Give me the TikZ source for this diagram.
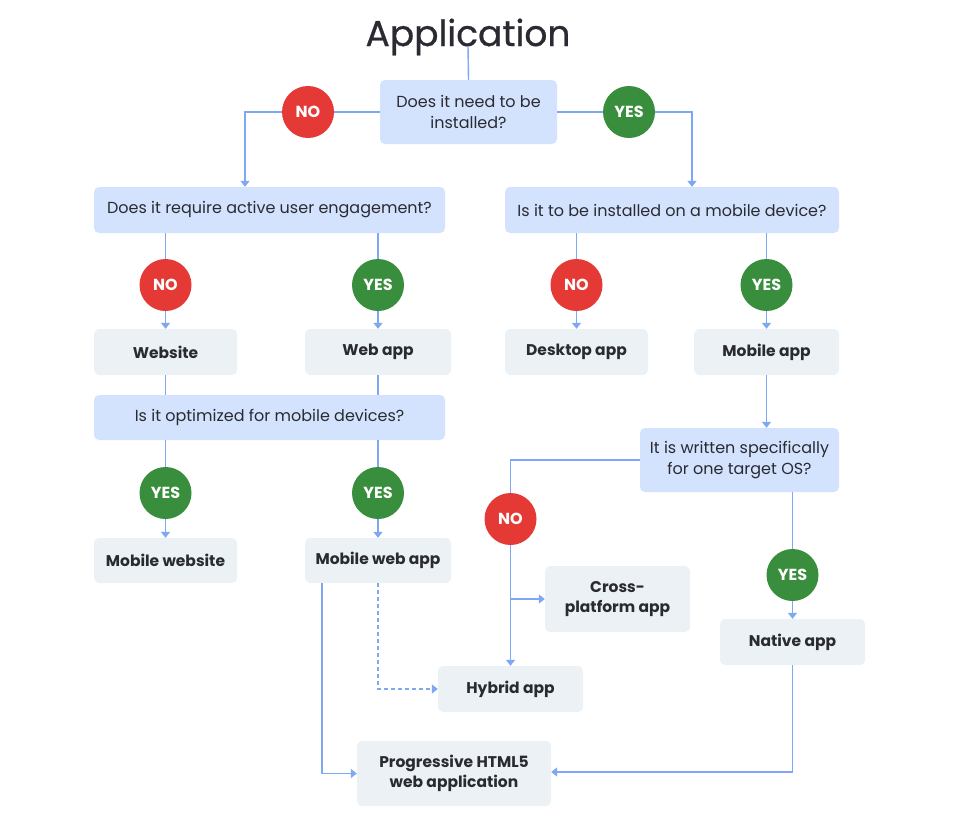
\documentclass[tikz,border=0pt]{standalone}
\usepackage{fontspec}
\setmainfont{Poppins}
\newfontfamily\titlefont[FakeBold=0.7]{Poppins}
\usetikzlibrary{arrows.meta,calc}
\definecolor{qfill}{HTML}{D3E3FD}
\definecolor{afill}{HTML}{EBF1F5}
\definecolor{lnc}{HTML}{7EA8F3}
\definecolor{txt}{HTML}{2A2A33}
\definecolor{nored}{HTML}{E53935}
\definecolor{yesgreen}{HTML}{388E3C}
\begin{document}
\begin{tikzpicture}[x=1pt,y=-1pt,
  every node/.style={text=txt},
  qbox/.style={fill=qfill,rounded corners=5pt,align=center,font=\fontsize{16}{20.5}\selectfont,inner sep=0pt},
  abox/.style={fill=afill,rounded corners=5pt,align=center,font=\fontsize{15.5}{20}\selectfont\bfseries,inner sep=0pt},
  nocirc/.style={circle,fill=nored,minimum size=52pt,inner sep=0pt,text=white,font=\fontsize{16}{18}\selectfont\bfseries},
  yescirc/.style={circle,fill=yesgreen,minimum size=52pt,inner sep=0pt,text=white,font=\fontsize{16}{18}\selectfont\bfseries},
  conn/.style={draw=lnc,line width=1.4pt},
  arr/.style={conn,-{Triangle[width=9pt,length=6pt]}},
  darr/.style={arr,dash pattern=on 4pt off 3pt}]
\useasboundingbox (0,0) rectangle (960,819);
\fill[white] (0,0) rectangle (960,819);
% title
\node[anchor=base,font=\titlefont\fontsize{36}{40}\selectfont] (title) at (468,46) {Application};
% boxes
\node[qbox,minimum width=177pt,minimum height=64pt] (q1) at (468.5,112) {Does it need to be\\installed?};
\node[qbox,minimum width=351pt,minimum height=46pt] (q2) at (269.5,210) {Does it require active user engagement?};
\node[qbox,minimum width=334pt,minimum height=46pt] (q3) at (672,210) {Is it to be installed on a mobile device?};
\node[abox,minimum width=143pt,minimum height=46pt] (website) at (165.5,352) {Website};
\node[abox,minimum width=146pt,minimum height=46pt] (webapp) at (378,352) {Web app};
\node[abox,minimum width=143pt,minimum height=46pt] (desktop) at (576.5,352) {Desktop app};
\node[abox,minimum width=145pt,minimum height=46pt] (mobileapp) at (766.5,352) {Mobile app};
\node[qbox,minimum width=351pt,minimum height=45pt] (q4) at (269.5,417.5) {Is it optimized for mobile devices?};
\node[qbox,minimum width=199pt,minimum height=64pt] (q5) at (739.5,460) {It is written specifically\\for one target OS?};
\node[abox,minimum width=143pt,minimum height=45pt] (mobwebsite) at (165.5,560.5) {Mobile website};
\node[abox,minimum width=146pt,minimum height=45pt] (mobwebapp) at (378,560.5) {Mobile web app};
\node[abox,minimum width=145pt,minimum height=66pt] (cross) at (617.5,599) {Cross-\\platform app};
\node[abox,minimum width=145pt,minimum height=46pt] (hybrid) at (510.5,689) {Hybrid app};
\node[abox,minimum width=145pt,minimum height=46pt] (native) at (792.5,642) {Native app};
\node[abox,minimum width=194pt,minimum height=65pt] (pwa) at (454,773.5) {Progressive HTML5\\web application};
% connectors
\draw[conn] (title.base) -- (q1.north);
\draw[arr] (q1.west) -| ([xshift=-24.5pt]q2.north);
\draw[arr] (q1.east) -| ([xshift=20pt]q3.north);
\draw[arr] (q2.south -| website) -- (website.north);
\draw[arr] (q2.south -| webapp) -- (webapp.north);
\draw[arr] (q3.south -| desktop) -- (desktop.north);
\draw[arr] (q3.south -| mobileapp) -- (mobileapp.north);
\draw[conn] (website.south) -- (website.south |- q4.north);
\draw[conn] (webapp.south) -- (webapp.south |- q4.north);
\draw[arr] (q4.south -| mobwebsite) -- (mobwebsite.north);
\draw[arr] (q4.south -| mobwebapp) -- (mobwebapp.north);
\draw[arr] (mobileapp.south) -- (mobileapp.south |- q5.north);
\draw[arr] (q5.west) -| (hybrid.north);
\draw[arr] (hybrid.north |- cross.west) -- (cross.west);
\draw[arr] (q5.south -| native) -- (native.north);
\draw[arr] (native.south) |- ([yshift=1.5pt]pwa.east);
\draw[arr] ([xshift=-56pt]mobwebapp.south) |- (pwa.west);
\draw[darr] (mobwebapp.south) |- (hybrid.west);
% circles
\node[nocirc] (n1) at (308,112) {NO};
\node[yescirc] (y1) at (629,112) {YES};
\node[nocirc] (n2) at (165.5,285) {NO};
\node[yescirc] (y2) at (378,285) {YES};
\node[nocirc] (n3) at (576.5,285) {NO};
\node[yescirc] (y3) at (766.5,285) {YES};
\node[yescirc] (y4) at (165.5,493) {YES};
\node[yescirc] (y5) at (378,493) {YES};
\node[nocirc] (n5) at (510.5,519) {NO};
\node[yescirc] (y6) at (792.5,575) {YES};
\end{tikzpicture}
\end{document}
